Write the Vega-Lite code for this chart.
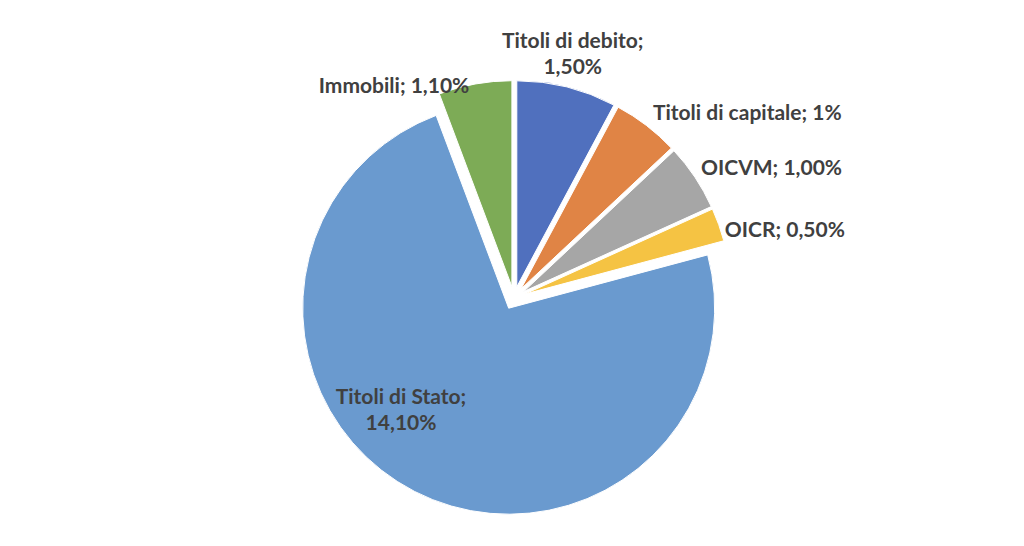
{
  "$schema": "https://vega.github.io/schema/vega-lite/v6.json",
  "width": 1020,
  "height": 496,
  "padding": {"left": 4, "top": 50, "right": 0, "bottom": 0},
  "autosize": "none",
  "background": "white",
  "config": {"view": {"stroke": null}},
  "data": {
    "values": [
      {"voce": "Titoli di debito", "valore": 1.5, "ordine": 1, "etichetta": "Titoli di debito;\n1,50%"},
      {"voce": "Titoli di capitale", "valore": 1.0, "ordine": 2, "etichetta": "Titoli di capitale; 1%"},
      {"voce": "OICVM", "valore": 1.0, "ordine": 3, "etichetta": "OICVM; 1,00%"},
      {"voce": "OICR", "valore": 0.5, "ordine": 4, "etichetta": "OICR; 0,50%"},
      {"voce": "Titoli di Stato", "valore": 14.1, "ordine": 5, "etichetta": "Titoli di Stato;\n14,10%"},
      {"voce": "Immobili", "valore": 1.1, "ordine": 6, "etichetta": "Immobili; 1,10%"}
    ]
  },
  "encoding": {
    "theta": {"field": "valore", "type": "quantitative", "stack": true},
    "order": {"field": "ordine", "type": "ordinal"},
    "color": {
      "field": "voce",
      "type": "nominal",
      "legend": null,
      "scale": {
        "domain": ["Titoli di debito", "Titoli di capitale", "OICVM", "OICR", "Titoli di Stato", "Immobili"],
        "range": ["#5070BE", "#E08445", "#A6A6A6", "#F5C343", "#6A9ACF", "#7DAB56"]
      }
    }
  },
  "layer": [
    {
      "mark": {"type": "arc", "outerRadius": 206, "stroke": "white", "strokeWidth": 1, "xOffset": 2.8, "yOffset": -11.2},
      "encoding": {"opacity": {"condition": {"test": "datum.voce === 'Titoli di debito'", "value": 1}, "value": 0}}
    },
    {
      "mark": {"type": "arc", "outerRadius": 206, "stroke": "white", "strokeWidth": 1, "xOffset": 7.0, "yOffset": -9.1},
      "encoding": {"opacity": {"condition": {"test": "datum.voce === 'Titoli di capitale'", "value": 1}, "value": 0}}
    },
    {
      "mark": {"type": "arc", "outerRadius": 206, "stroke": "white", "strokeWidth": 1, "xOffset": 9.6, "yOffset": -6.4},
      "encoding": {"opacity": {"condition": {"test": "datum.voce === 'OICVM'", "value": 1}, "value": 0}}
    },
    {
      "mark": {"type": "arc", "outerRadius": 206, "stroke": "white", "strokeWidth": 1, "xOffset": 10.8, "yOffset": -3.9},
      "encoding": {"opacity": {"condition": {"test": "datum.voce === 'OICR'", "value": 1}, "value": 0}}
    },
    {
      "mark": {"type": "arc", "outerRadius": 206, "stroke": "white", "strokeWidth": 1, "xOffset": -5.3, "yOffset": 10.2},
      "encoding": {"opacity": {"condition": {"test": "datum.voce === 'Titoli di Stato'", "value": 1}, "value": 0}}
    },
    {
      "mark": {"type": "arc", "outerRadius": 206, "stroke": "white", "strokeWidth": 1, "xOffset": -2.1, "yOffset": -11.3},
      "encoding": {"opacity": {"condition": {"test": "datum.voce === 'Immobili'", "value": 1}, "value": 0}}
    },
    {
      "mark": {"type": "text", "radius": 225, "align": "left", "baseline": "middle", "dx": 2, "dy": -5, "font": "Lato", "fontWeight": "bold", "fontSize": 21},
      "encoding": {
        "color": {"value": "#404040"},
        "text": {"condition": {"test": "datum.voce === 'Titoli di capitale'", "field": "etichetta"}, "value": ""}
      }
    },
    {
      "mark": {"type": "text", "radius": 225, "align": "left", "baseline": "middle", "dy": -4, "font": "Lato", "fontWeight": "bold", "fontSize": 21},
      "encoding": {
        "color": {"value": "#404040"},
        "text": {"condition": {"test": "datum.voce === 'OICVM'", "field": "etichetta"}, "value": ""}
      }
    },
    {
      "mark": {"type": "text", "radius": 225, "align": "left", "baseline": "middle", "dy": 9, "dx": -1, "font": "Lato", "fontWeight": "bold", "fontSize": 21},
      "encoding": {
        "color": {"value": "#404040"},
        "text": {"condition": {"test": "datum.voce === 'OICR'", "field": "etichetta"}, "value": ""}
      }
    },
    {
      "mark": {"type": "text", "radius": 216, "align": "right", "baseline": "middle", "dx": -6, "dy": 2, "font": "Lato", "fontWeight": "bold", "fontSize": 21},
      "encoding": {
        "color": {"value": "#404040"},
        "text": {"condition": {"test": "datum.voce === 'Immobili'", "field": "etichetta"}, "value": ""}
      }
    },
    {
      "mark": {"type": "text", "radius": 250, "align": "center", "baseline": "middle", "lineBreak": "\n", "lineHeight": 26, "dy": -13, "dx": -2, "font": "Lato", "fontWeight": "bold", "fontSize": 21},
      "encoding": {
        "color": {"value": "#404040"},
        "text": {"condition": {"test": "datum.voce === 'Titoli di debito'", "field": "etichetta"}, "value": ""}
      }
    },
    {
      "mark": {"type": "text", "radius": 140, "align": "center", "baseline": "middle", "lineBreak": "\n", "lineHeight": 26, "dy": -25, "dx": -49, "font": "Lato", "fontWeight": "bold", "fontSize": 21},
      "encoding": {
        "color": {"value": "#404040"},
        "text": {"condition": {"test": "datum.voce === 'Titoli di Stato'", "field": "etichetta"}, "value": ""}
      }
    }
  ]
}
